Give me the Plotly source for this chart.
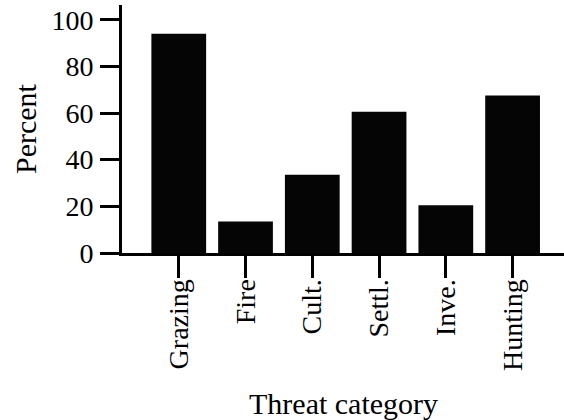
import plotly.graph_objects as go

categories = ["Grazing", "Fire", "Cult.", "Settl.", "Inve.", "Hunting"]
percent = [94, 13.5, 33.5, 60.5, 20.5, 67.5]
y_ticks = [0, 20, 40, 60, 80, 100]

FONT = "Liberation Serif, Times New Roman, serif"

fig = go.Figure(
    go.Bar(
        x=categories,
        y=percent,
        marker=dict(color="#050505", line=dict(width=0)),
    )
)

fig.update_layout(
    width=564,
    height=420,
    margin=dict(l=122, r=0, t=5, b=167),
    paper_bgcolor="white",
    plot_bgcolor="white",
    bargap=0.18,
    showlegend=False,
    font=dict(family=FONT, color="black", size=28),
    annotations=[
        dict(text="Threat category", xref="paper", yref="paper", x=0.5, y=0,
             xanchor="center", yanchor="middle", yshift=-150, showarrow=False,
             font=dict(family=FONT, size=30, color="black")),
        dict(text="Percent", xref="paper", yref="paper", x=0, y=0.5,
             xanchor="center", yanchor="middle", xshift=-97, textangle=-90,
             showarrow=False, font=dict(family=FONT, size=30, color="black")),
    ],
)

fig.update_xaxes(
    range=[-0.85, 5.77],
    automargin=False,
    showline=True,
    linecolor="black",
    linewidth=3,
    ticks="outside",
    ticklen=22,
    tickwidth=3,
    tickcolor="black",
    tickangle=-90,
    tickfont=dict(family=FONT, size=28, color="black"),
    ticklabelstandoff=-10,
    showgrid=False,
    zeroline=False,
)

fig.update_yaxes(
    range=[0, 106.3],
    automargin=False,
    tickvals=y_ticks,
    showline=True,
    linecolor="black",
    linewidth=3,
    ticks="outside",
    ticklen=19,
    tickwidth=3,
    tickcolor="black",
    tickfont=dict(family=FONT, size=28, color="black"),
    ticklabelstandoff=1,
    showgrid=False,
    zeroline=False,
)

fig.write_html(
    "out.html",
    config={"displayModeBar": False},
    post_script="document.body.style.margin='0';document.body.style.overflow='hidden';",
)
